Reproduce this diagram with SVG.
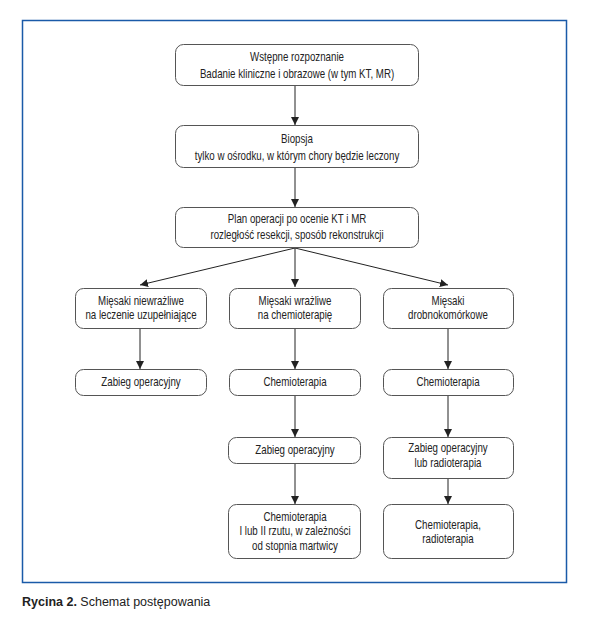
<svg xmlns="http://www.w3.org/2000/svg" width="591" height="620" viewBox="0 0 591 620">
<style>
.box{fill:#fff;stroke:#555;stroke-width:1}
.t{font-family:"Liberation Sans",Arial,sans-serif;font-size:12px;fill:#222;text-anchor:middle}
.c{stroke:#222;stroke-width:1;fill:none;marker-end:url(#ah)}
.cap{font-family:"Liberation Sans",Arial,sans-serif;font-size:12.5px;fill:#222}
</style>
<defs>
<marker id="ah" viewBox="0 0 10 10" refX="10" refY="5" markerWidth="8" markerHeight="8" markerUnits="userSpaceOnUse" orient="auto">
<path d="M0,0 L10,5 L0,10 Z" fill="#222"/>
</marker>
</defs>
<rect x="22.5" y="20.5" width="544" height="562" fill="#fff" stroke="#1a5aa8" stroke-width="1.5"/>
<g id="connectors">
<line class="c" x1="295" y1="86" x2="295" y2="125"/>
<line class="c" x1="295" y1="168" x2="295" y2="207"/>
<line class="c" x1="295" y1="248" x2="140" y2="285"/>
<line class="c" x1="295" y1="248" x2="295" y2="287"/>
<line class="c" x1="295" y1="248" x2="448" y2="285"/>
<line class="c" x1="140" y1="329" x2="140" y2="369"/>
<line class="c" x1="295" y1="329" x2="295" y2="369"/>
<line class="c" x1="448" y1="329" x2="448" y2="369"/>
<line class="c" x1="295" y1="396" x2="295" y2="437"/>
<line class="c" x1="448" y1="396" x2="448" y2="437"/>
<line class="c" x1="295" y1="464" x2="295" y2="504"/>
<line class="c" x1="448" y1="479" x2="448" y2="504"/>
</g>
<g id="n1"><rect class="box" x="175.5" y="44.5" width="243" height="41" rx="8"/>
<text class="t" transform="matrix(0.81 0 0 1 297 61)">Wstępne rozpoznanie</text><text class="t" transform="matrix(0.81 0 0 1 297 78)">Badanie kliniczne i obrazowe (w tym KT, MR)</text></g>
<g id="n2"><rect class="box" x="175.5" y="125.5" width="243" height="42" rx="8"/>
<text class="t" transform="matrix(0.81 0 0 1 297 143)">Biopsja</text><text class="t" transform="matrix(0.81 0 0 1 297 160)">tylko w ośrodku, w którym chory będzie leczony</text></g>
<g id="n3"><rect class="box" x="175.5" y="207.5" width="243" height="40" rx="8"/>
<text class="t" transform="matrix(0.81 0 0 1 297 223)">Plan operacji po ocenie KT i MR</text><text class="t" transform="matrix(0.81 0 0 1 297 239)">rozległość resekcji, sposób rekonstrukcji</text></g>
<g id="n4"><rect class="box" x="75.5" y="288.5" width="131" height="40" rx="8"/>
<text class="t" transform="matrix(0.81 0 0 1 141 305)">Mięsaki niewrażliwe</text><text class="t" transform="matrix(0.81 0 0 1 141 319)">na leczenie uzupełniające</text></g>
<g id="n5"><rect class="box" x="229.5" y="288.5" width="131" height="40" rx="8"/>
<text class="t" transform="matrix(0.81 0 0 1 295 305)">Mięsaki wrażliwe</text><text class="t" transform="matrix(0.81 0 0 1 295 319)">na chemioterapię</text></g>
<g id="n6"><rect class="box" x="383.5" y="288.5" width="130" height="40" rx="8"/>
<text class="t" transform="matrix(0.81 0 0 1 448 305)">Mięsaki</text><text class="t" transform="matrix(0.81 0 0 1 448 319)">drobnokomórkowe</text></g>
<g id="n7"><rect class="box" x="75.5" y="369.5" width="131" height="26" rx="8"/>
<text class="t" transform="matrix(0.81 0 0 1 141 386)">Zabieg operacyjny</text></g>
<g id="n8"><rect class="box" x="229.5" y="369.5" width="131" height="26" rx="8"/>
<text class="t" transform="matrix(0.81 0 0 1 295 386)">Chemioterapia</text></g>
<g id="n9"><rect class="box" x="383.5" y="369.5" width="130" height="26" rx="8"/>
<text class="t" transform="matrix(0.81 0 0 1 448 386)">Chemioterapia</text></g>
<g id="n10"><rect class="box" x="228.5" y="437.5" width="132" height="26" rx="8"/>
<text class="t" transform="matrix(0.81 0 0 1 295 454)">Zabieg operacyjny</text></g>
<g id="n11"><rect class="box" x="383.5" y="437.5" width="130" height="41" rx="8"/>
<text class="t" transform="matrix(0.81 0 0 1 448 452)">Zabieg operacyjny</text><text class="t" transform="matrix(0.81 0 0 1 448 467)">lub radioterapia</text></g>
<g id="n12"><rect class="box" x="228.5" y="504.5" width="132" height="54" rx="8"/>
<text class="t" transform="matrix(0.81 0 0 1 295 521)">Chemioterapia</text><text class="t" transform="matrix(0.81 0 0 1 295 535)">I lub II rzutu, w zależności</text><text class="t" transform="matrix(0.81 0 0 1 295 550)">od stopnia martwicy</text></g>
<g id="n13"><rect class="box" x="383.5" y="504.5" width="130" height="54" rx="8"/>
<text class="t" transform="matrix(0.81 0 0 1 448 529)">Chemioterapia,</text><text class="t" transform="matrix(0.81 0 0 1 448 543)">radioterapia</text></g>
<text class="cap" x="22" y="606"><tspan font-weight="bold">Rycina 2.</tspan> Schemat postępowania</text>
</svg>
